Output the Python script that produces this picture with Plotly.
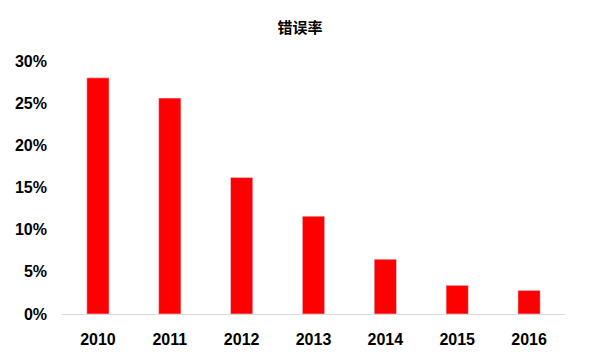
import plotly.graph_objects as go

years = ["2010", "2011", "2012", "2013", "2014", "2015", "2016"]
error_rate = [0.280, 0.256, 0.162, 0.116, 0.065, 0.034, 0.028]
y_ticks = [0, 0.05, 0.10, 0.15, 0.20, 0.25, 0.30]
y_tick_labels = ["0%", "5%", "10%", "15%", "20%", "25%", "30%"]

fig = go.Figure(go.Bar(x=years, y=error_rate, marker_color="#FF0000", width=0.31))

fig.update_layout(
    width=600, height=359,
    margin=dict(l=62, r=35, t=61, b=45),
    paper_bgcolor="white", plot_bgcolor="white",
    title=dict(text="错误率", x=0.5, xanchor="center", y=1 - 28/359, yref="container", yanchor="middle",
               font=dict(family="Noto Sans CJK SC", size=15, color="black", weight="bold")),
    showlegend=False,
)
fig.update_xaxes(showline=True, linecolor="#D9D9D9", linewidth=1, ticks="", ticklabelstandoff=11,
                 tickfont=dict(family="Liberation Sans", size=16, color="black", weight="bold"))
fig.update_yaxes(range=[0, 0.30], tickvals=y_ticks, ticktext=y_tick_labels, showgrid=False,
                 zeroline=False, ticks="", ticklabelstandoff=14,
                 tickfont=dict(family="Liberation Sans", size=16, color="black", weight="bold"))

fig.write_html("out.html")
